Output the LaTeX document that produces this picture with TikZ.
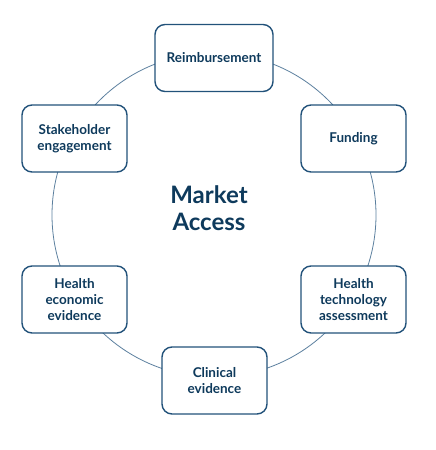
\documentclass[tikz,border=0pt]{standalone}
\usepackage{fontspec}
\setmainfont{Lato}
\definecolor{navy}{HTML}{0E3A5C}
\definecolor{boxline}{HTML}{22527A}
\definecolor{ringline}{HTML}{5B7F9E}
\begin{document}
\begin{tikzpicture}[x=1pt,y=-1pt,
  item/.style={draw=boxline, line width=1.4pt, fill=white, rounded corners=10pt,
    minimum width=105pt, minimum height=67pt, align=center, text=navy,
    font=\fontsize{13.5}{16}\selectfont\bfseries, inner sep=2pt},
  ring/.style={draw=ringline, line width=0.8pt}]
\useasboundingbox (0,0) rectangle (436,450);
\coordinate (c) at (214,215);
\draw[ring] (c) circle[radius=162];
\node[item, minimum width=118pt] (reimb) at (214,58) {Reimbursement};
\node[item] (fund) at (353.5,138.5) {Funding};
\node[item] (hta) at (353.5,299.5) {Health\\technology\\assessment};
\node[item] (clin) at (214.5,380.5) {Clinical\\evidence};
\node[item] (hee) at (74.5,299.5) {Health\\economic\\evidence};
\node[item] (stake) at (74.5,138.5) {Stakeholder\\engagement};
\node[text=navy, align=center, font=\fontsize{24}{27}\selectfont\bfseries] (ma) at (209,208) {Market\\Access};
\end{tikzpicture}
\end{document}
